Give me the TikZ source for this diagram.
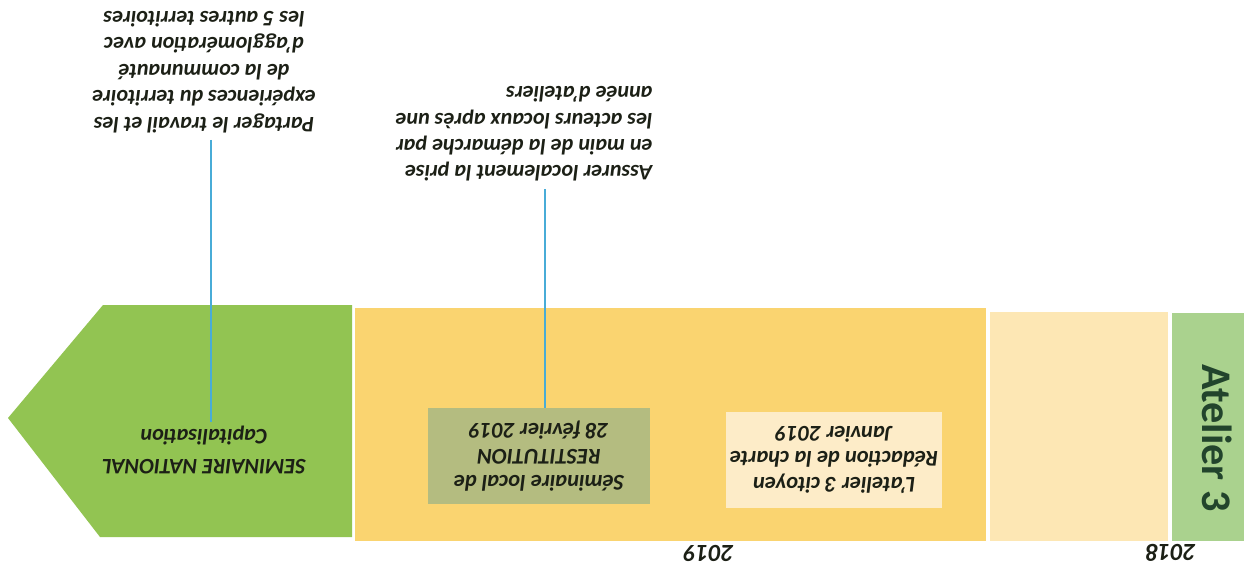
\documentclass[tikz,border=0pt]{standalone}
\usepackage{fontspec}
\setmainfont{Carlito}
\usetikzlibrary{positioning}
\definecolor{natgreen}{RGB}{146,196,82}
\definecolor{bargold}{RGB}{250,212,112}
\definecolor{barpale}{RGB}{253,231,180}
\definecolor{stripgreen}{RGB}{170,210,142}
\definecolor{boxolive}{RGB}{180,188,128}
\definecolor{boxcream}{RGB}{253,236,200}
\definecolor{linkblue}{RGB}{72,172,215}
\definecolor{inkdark}{RGB}{28,32,22}
\definecolor{inkgreen}{RGB}{34,68,44}
\tikzstyle{link} = [linkblue, line width=0.7pt]
\tikzstyle{event} = [rectangle, minimum height=1.92cm, text centered, align=center, inner sep=2pt, text=inkdark, font=\fontsize{12.8}{14.6}\selectfont\bfseries\itshape]
\tikzstyle{note} = [align=center, inner sep=4pt, text=inkdark, font=\fontsize{12.6}{15}\selectfont\bfseries\itshape]
\tikzstyle{year} = [text=inkdark, font=\fontsize{14}{16}\selectfont\bfseries\itshape]

\begin{document}
\begin{tikzpicture}[x=0.02cm, y=0.02cm]
\useasboundingbox (0,0) rectangle (1244,586);
\fill[white] (0,0) rectangle (1244,586);
\begin{scope}[rotate around={180:(622,293)}, transform shape]
% Timeline bars
\fill[stripgreen] (0,313) rectangle (72,541);
\fill[barpale] (76,312) rectangle (254,541);
\fill[bargold] (258,308) rectangle (889,541);
\fill[natgreen] (892,305) -- (1141,305) -- (1236,418) -- (1144,537) -- (892,537) -- cycle;

% Placement of nodes
\node (atelier) [rotate=90, text=inkgreen, font=\fontsize{24}{28}\selectfont\bfseries] at (27,438) {Atelier 3};
\node (y2018) [year] at (73,553) {2018};
\node (y2019) [year] at (535,553) {2019};
\node (charte) [event, fill=boxcream, minimum width=4.26cm] at (410,460) {L’atelier 3 citoyen\\Rédaction de la charte\\Janvier 2019};
\node (restit) [event, fill=boxolive, minimum width=4.46cm] at (705,456) {Séminaire local de\\RESTITUTION\\28 février 2019};
\node (nat) [event, minimum height=1cm, font=\fontsize{12.6}{17}\selectfont\bfseries\itshape] at (1040,450) {SEMINAIRE NATIONAL\\Capitalisation};

%% Note nodes AND edges
\node (noteRestit) [note, align=left] at (720,134) {Assurer localement la prise\\en main de la démarche par\\les acteurs locaux après une\\année d’ateliers};
\draw [link] ([xshift=-0.12cm]restit.south) -- ([xshift=-0.12cm]restit.south |- noteRestit.north);

\node (noteNat) [note] at (1040,72) {Partager le travail et les\\expériences du territoire\\de la communauté\\d’agglomération avec\\les 5 autres territoires};
\draw [link] ([xshift=-0.14cm]noteNat.north) -- ([xshift=-0.14cm]noteNat.north |- nat.south);
\end{scope}
\end{tikzpicture}
\end{document}
